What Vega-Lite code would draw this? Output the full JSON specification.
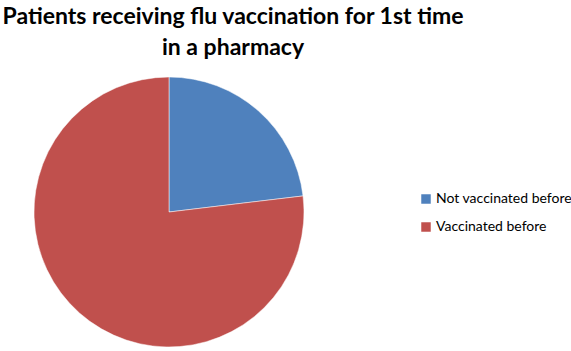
{
  "$schema": "https://vega.github.io/schema/vega-lite/v6.json",
  "width": 270,
  "height": 270,
  "autosize": "none",
  "padding": {"left": 34, "top": 77, "right": 267, "bottom": 4},
  "background": "white",
  "title": {
    "text": ["Patients receiving flu vaccination for 1st time", "in a pharmacy"],
    "font": "Lato",
    "fontSize": 23,
    "fontWeight": "bold",
    "color": "#000000",
    "anchor": "middle",
    "dx": 64,
    "offset": 16,
    "lineHeight": 31
  },
  "data": {
    "values": [
      {"status": "Not vaccinated before", "percent": 23.1, "idx": 1},
      {"status": "Vaccinated before", "percent": 76.9, "idx": 2}
    ]
  },
  "mark": {"type": "arc", "stroke": "white", "strokeWidth": 0.5, "outerRadius": 135},
  "encoding": {
    "theta": {"field": "percent", "type": "quantitative", "stack": true},
    "order": {"field": "idx", "type": "quantitative"},
    "color": {
      "field": "status",
      "type": "nominal",
      "sort": ["Not vaccinated before", "Vaccinated before"],
      "scale": {"domain": ["Not vaccinated before", "Vaccinated before"], "range": ["#4F81BD", "#C0504D"]},
      "legend": {
        "title": null,
        "orient": "none",
        "legendX": 385,
        "legendY": 115,
        "symbolType": "square",
        "symbolSize": 90,
        "symbolStrokeWidth": 0,
        "labelFont": "Lato",
        "labelFontSize": 14,
        "labelColor": "#000000",
        "labelOffset": 3,
        "rowPadding": 14
      }
    }
  }
}
